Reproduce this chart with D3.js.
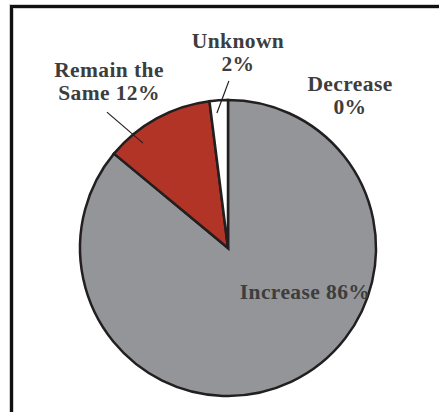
<!DOCTYPE html>
<html lang="en">
<head>
<meta charset="utf-8">
<title>Pie</title>
<script src="https://d3js.org/d3.v7.min.js"></script>
<style>
  body { margin: 0; background: #fff; }
  .lbl { font-family: "Liberation Serif", serif; font-weight: bold; font-size: 21.5px; fill: #3d3d3d; letter-spacing: 0.4px; }
</style>
</head>
<body>
<script>
var categories = ["Increase", "Remain the Same", "Unknown", "Decrease"];
var percents   = [86, 12, 2, 0];
var colors     = ["#939598", "#b13426", "#ffffff", "#ffffff"];

var W = 439, H = 412;
var cx = 228, cy = 248, radius = 148;

var svg = d3.select("body").append("svg")
    .attr("width", W).attr("height", H);

// frame (runs off the right and bottom edges)
svg.append("rect")
    .attr("x", 11.5).attr("y", 6.5)
    .attr("width", 460).attr("height", 440)
    .attr("fill", "none").attr("stroke", "#cfcfcf").attr("stroke-width", 5);
svg.append("rect")
    .attr("x", 11.5).attr("y", 6.5)
    .attr("width", 460).attr("height", 440)
    .attr("fill", "none").attr("stroke", "#111").attr("stroke-width", 3);

var data = categories.map(function(c, i) { return {name: c, value: percents[i], color: colors[i]}; });

var pie = d3.pie().sort(null).value(function(d) { return d.value; });
var arc = d3.arc().innerRadius(0).outerRadius(radius);

var g = svg.append("g").attr("transform", "translate(" + cx + "," + cy + ")");

g.selectAll("path")
  .data(pie(data).filter(function(d) { return d.data.value > 0; }))
  .enter().append("path")
    .attr("d", arc)
    .attr("fill", function(d) { return d.data.color; })
    .attr("stroke", "#231f20")
    .attr("stroke-width", 2.5)
    .attr("stroke-linejoin", "miter");

function polar(deg, r) {
  var a = deg * Math.PI / 180;
  return [r * Math.sin(a), -r * Math.cos(a)];
}

// leader lines: [angle, radius] of outer and inner points
var leaders = [
  [[-41.7, 182], [-39, 135]],
  [[0.3, 167], [-4.7, 135.5]]
];
g.selectAll("line.leader")
  .data(leaders)
  .enter().append("line")
    .attr("class", "leader")
    .attr("x1", function(d) { return polar(d[0][0], d[0][1])[0]; })
    .attr("y1", function(d) { return polar(d[0][0], d[0][1])[1]; })
    .attr("x2", function(d) { return polar(d[1][0], d[1][1])[0]; })
    .attr("y2", function(d) { return polar(d[1][0], d[1][1])[1]; })
    .attr("stroke", "#231f20").attr("stroke-width", 1.2);

// label text: lines, anchor offset from centre
var labels = [
  {lines: ["Increase " + percents[0] + "%"], dx: 77, dy: 51},
  {lines: ["Remain the", "Same " + percents[1] + "%"], dx: -119, dy: -171},
  {lines: ["Unknown", percents[2] + "%"], dx: 10, dy: -200},
  {lines: ["Decrease", percents[3] + "%"], dx: 122, dy: -157}
];
var lg = g.selectAll("text.lbl")
  .data(labels)
  .enter().append("text")
    .attr("class", "lbl")
    .attr("text-anchor", "middle")
    .attr("transform", function(d) { return "translate(" + d.dx + "," + d.dy + ")"; });
lg.selectAll("tspan")
  .data(function(d) { return d.lines; })
  .enter().append("tspan")
    .attr("x", 0)
    .attr("y", function(d, i) { return i * 22.5; })
    .text(function(d) { return d; });
</script>
</body>
</html>
